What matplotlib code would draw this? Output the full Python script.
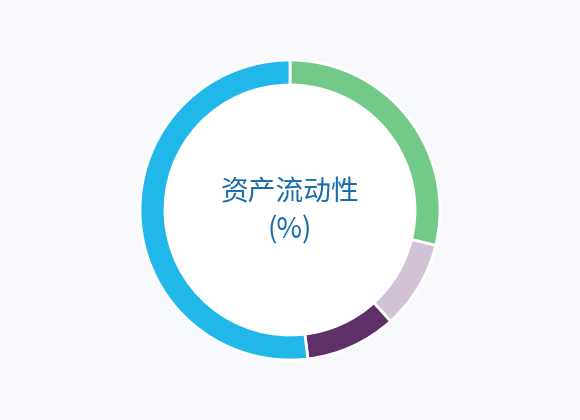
import matplotlib
matplotlib.use("Agg")
import matplotlib.pyplot as plt

labels = ["A", "B", "C", "D"]
values = [28.8, 9.5, 9.8, 51.9]
colors = ["#73CA88", "#D1C2D5", "#5F2F69", "#21B8E9"]
title_lines = ["资产流动性", "(%)"]

plt.rcParams['font.family'] = ['Noto Sans CJK SC', 'DejaVu Sans']

fig = plt.figure(figsize=(5.8, 4.2), dpi=100)
fig.patch.set_facecolor("#F7F9FD")
ax = fig.add_axes([0, 0, 1, 1])
ax.set_facecolor("#F7F9FD")

ax.pie(values, colors=colors, startangle=90, counterclock=False,
       center=(290, 210), radius=150, frame=True,
       wedgeprops=dict(width=25, edgecolor="white", linewidth=2))
ax.add_patch(plt.Circle((290, 210), 124, color="white", zorder=3))
ax.set_xlim(0, 580)
ax.set_ylim(0, 420)
ax.set_aspect("equal")
ax.axis("off")

ax.text(290, 228, title_lines[0], ha="center", va="center", fontsize=20,
        color="#1A6DAD", zorder=4)
ax.text(290, 190, title_lines[1], ha="center", va="center", fontsize=20,
        color="#1A6DAD", zorder=4)

fig.savefig("out.png", dpi=100, facecolor=fig.get_facecolor())
